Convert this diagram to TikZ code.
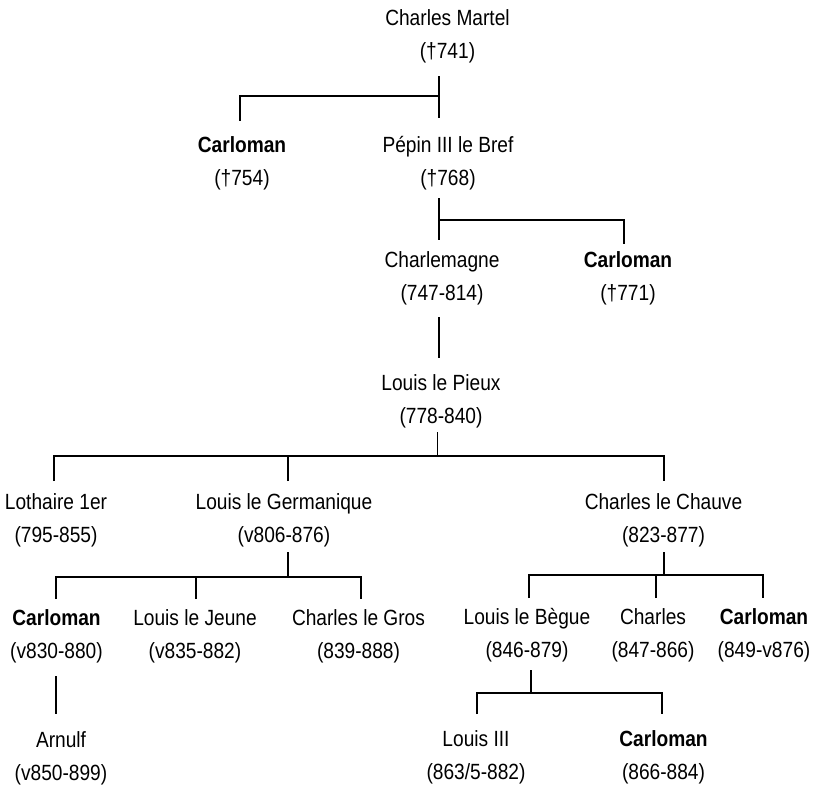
\documentclass[tikz,border=0pt]{standalone}
\usepackage{fontspec}
\setmainfont{Liberation Sans}[FakeStretch=0.87]
\usetikzlibrary{calc}
\tikzset{
  person/.style={inner sep=0pt, outer sep=0pt, anchor=base, align=center,
    yshift=-33pt, font=\fontsize{22}{33}\selectfont},
  tree/.style={draw=black, line width=1.8pt, line cap=butt, line join=miter}
}
\begin{document}
\begin{tikzpicture}[x=1pt,y=-1pt]
\useasboundingbox[fill=white] (0,0) rectangle (817,785);
% persons (positions are first-line baselines; base anchor = last line)
\node[person] (cm)    at (447.5,25)  {Charles Martel\\(†741)};
\node[person] (carA)  at (242,152)   {\textbf{Carloman}\\(†754)};
\node[person] (pepin) at (448,152)   {Pépin III le Bref\\(†768)};
\node[person] (chm)   at (442,267)   {Charlemagne\\(747-814)};
\node[person] (carB)  at (628,267)   {\textbf{Carloman}\\(†771)};
\node[person] (lp)    at (441,390)   {Louis le Pieux\\(778-840)};
\node[person] (loth)  at (56,509)    {Lothaire 1er\\(795-855)};
\node[person] (llg)   at (284,509)   {Louis le Germanique\\(v806-876)};
\node[person] (clc)   at (663.5,509) {Charles le Chauve\\(823-877)};
\node[person] (carC)  at (56.5,625)  {\textbf{Carloman}\\(v830-880)};
\node[person] (llj)   at (195,625)   {Louis le Jeune\\(v835-882)};
\node[person] (clg)   at (358.5,625) {Charles le Gros\\(839-888)};
\node[person] (llb)   at (527,624)   {Louis le Bègue\\(846-879)};
\node[person] (chs)   at (653,624)   {Charles\\(847-866)};
\node[person] (carD)  at (764,624)   {\textbf{Carloman}\\(849-v876)};
\node[person] (arn)   at (61,747)    {Arnulf\\(v850-899)};
\node[person] (l3)    at (476,746)   {Louis III\\(863/5-882)};
\node[person] (carE)  at (663.5,746) {\textbf{Carloman}\\(866-884)};
% junctions
\coordinate (j1) at ($(cm.base)+(-8.8,38)$);
\coordinate (j2) at ($(pepin.base)+(-9.3,35)$);
\coordinate (j4) at ($(lp.base)+(-3.5,32.7)$);
\coordinate (j5) at ($(llg.base)+(3.7,35)$);
\coordinate (j6) at ($(clc.base)+(0.2,33)$);
\coordinate (j8) at ($(llb.base)+(4,35.7)$);
% family 1
\draw[tree] ($(cm.base)+(-8.8,18)$) -- ($(pepin.base)+(-9.3,-67)$);
\draw[tree] (j1) -| ($(carA.base)+(-2,-64)$);
% family 2
\draw[tree] ($(pepin.base)+(-9.3,13)$) -- ($(chm.base)+(-3.3,-60)$);
\draw[tree] (j2) -| ($(carB.base)+(-4,-56)$);
% family 3
\draw[tree] ($(chm.base)+(-3.3,17)$) -- ($(lp.base)+(-2.3,-65)$);
% family 4
\draw[tree] ($(lp.base)+(-3.5,9)$) -- (j4);
\draw[tree] ($(loth.base)+(-2,-61)$) |- (j4) -| ($(clc.base)+(0.5,-61)$);
\draw[tree] ($(llg.base)+(4,-61)$) |- (j4);
% family 5
\draw[tree] ($(llg.base)+(3.7,10)$) -- (j5);
\draw[tree] ($(carC.base)+(-0.8,-59)$) |- (j5) -| ($(clg.base)+(2.2,-59)$);
\draw[tree] ($(llj.base)+(0.7,-59)$) |- (j5);
% family 6
\draw[tree] ($(clc.base)+(0.2,10)$) -- (j6);
\draw[tree] ($(llb.base)+(1.7,-59)$) |- (j6) -| ($(carD.base)+(-0.7,-59)$);
\draw[tree] ($(chs.base)+(2.7,-59)$) |- (j6);
% family 7
\draw[tree] ($(carC.base)+(-0.5,18)$) -- ($(arn.base)+(-5,-66)$);
% family 8
\draw[tree] ($(llb.base)+(4,13)$) -- (j8);
\draw[tree] ($(l3.base)+(1.3,-65)$) |- (j8) -| ($(carE.base)+(-1.2,-65)$);
\end{tikzpicture}
\end{document}
